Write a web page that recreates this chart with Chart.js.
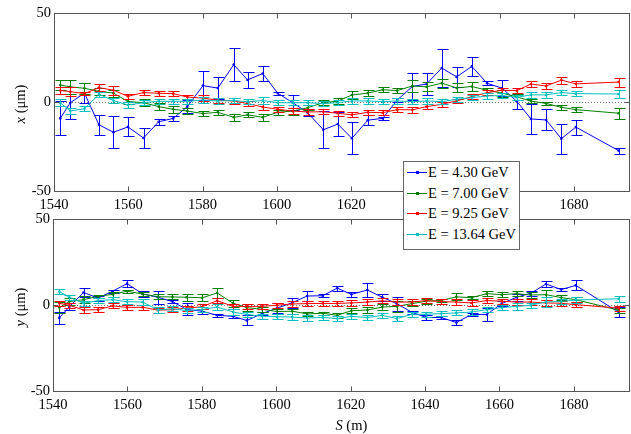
<!DOCTYPE html>
<html>
<head>
<meta charset="utf-8">
<script src="https://cdn.jsdelivr.net/npm/chart.js@4"></script>
<style>
body{margin:0;background:#fff;}
#wrap{position:relative;width:631px;height:434px;overflow:hidden;}
#topBox{position:absolute;left:0;top:0;width:631px;height:215px;}
#botBox{position:absolute;left:0;top:200px;width:631px;height:234px;}
#legend{position:absolute;left:403px;top:161px;width:115px;height:87px;border:1px solid #666;background:#fff;
  font-family:'Liberation Serif',serif;font-size:14.5px;color:#000;z-index:5;}
#legend .row{height:20.7px;display:flex;align-items:center;white-space:nowrap;}
#legend .mk{position:relative;width:20px;height:1px;margin:0 1px 0 3px;}
#legend .mk i{position:absolute;left:9px;top:-1px;width:3px;height:3px;}
</style>
</head>
<body>
<div id="wrap">
  <div id="topBox"><canvas id="chartX"></canvas></div>
  <div id="botBox"><canvas id="chartY"></canvas></div>
  <div id="legend"></div>
</div>
<script>
// BPM positions along the line (m)
const S = [1541.7, 1544.4, 1548.2, 1552.1, 1556, 1559.9, 1564.1, 1568.2, 1572.1, 1575.9,
           1580.1, 1584.1, 1588.4, 1592.1, 1596.2, 1600.2, 1604.3, 1608.3, 1612.5, 1616.4,
           1620.2, 1624.5, 1628.5, 1632.4, 1636.5, 1640.3, 1644.4, 1648.4, 1652.5, 1656.6,
           1660.6, 1664.6, 1668.4, 1672.5, 1676.6, 1680.5, 1692];

const energies = ["E = 4.30 GeV", "E = 7.00 GeV", "E = 9.25 GeV", "E = 13.64 GeV"];

// horizontal offsets x (um) and errors
const x430 = [-9.2, -0.4, 5.0, -12.8, -17.0, -14.0, -20.2, -11.1, -9.2, -2.6, 9.2, 7.8, 21.0, 12.4, 16.0, 5.0, -0.4, -6.0, -15.6, -12.4,
              -20.4, -10.2, -9.2, 1.1, 8.7, 10.1, 19.1, 14.1, 20.0, 10.5, 7.8, 0.4, -9.5, -10.1, -20.6, -14.1, -27.3];
const x430err = [9.5, 9.0, 5.4, 5.5, 8.9, 5.3, 5.6, 1.7, 1.2, 3.5, 8.0, 6.3, 9.3, 4.7, 4.3, 0.8, 4.3, 2.0, 10.5, 6.6,
                 8.9, 3.0, 1.0, 1.0, 7.5, 6.4, 10.6, 5.5, 5.2, 1.2, 4.3, 4.2, 8.5, 5.9, 8.5, 4.2, 1.7];
const x700 = [9.5, 8.5, 7.7, 6.0, 5.0, 0.3, -0.4, -2.6, -4.1, -5.1, -6.5, -5.8, -8.6, -7.2, -8.6, -5.8, -5.1, -3.2, -0.4, 0.5,
              3.9, 5.0, 6.9, 6.4, 9.0, 8.5, 10.6, 7.9, 8.7, 6.6, 5.0, 2.9, 0.5, -0.8, -3.0, -4.3, -6.3];
const x700err = [3, 4, 3, 2, 2, 1.5, 2, 2, 2, 1.5, 1.5, 1.5, 2, 1.5, 2, 1.5, 2, 1.5, 1.5, 1.5,
                 2, 1.5, 1.5, 1.5, 3.5, 2.5, 2.5, 2.5, 2.5, 1.5, 2, 1.5, 1, 1, 1.5, 1.5, 3];
const x925 = [6.5, 5.8, 4.7, 8.1, 6.6, 3.2, 5.3, 4.9, 4.7, 2.8, 2.2, 1.0, 0.6, -0.9, -2.8, -4.1, -5.1, -5.6, -5.5, -6.3,
              -7.2, -5.8, -6.0, -4.3, -4.4, -2.6, -1.3, 0.6, 3.0, 5.2, 6.6, 6.4, 10.1, 9.0, 12.3, 10.2, 11.2];
const x925err = [2, 2.5, 1, 2, 2.5, 1.5, 1.5, 1.5, 1.5, 1, 1.5, 1.5, 1.5, 1.5, 1.5, 1.5, 1.5, 1.5, 1.5, 1.5,
                 1.5, 1.5, 1.5, 1.5, 1.5, 1.5, 1.5, 1, 1.5, 1.5, 1.5, 1.5, 1.5, 1.5, 2, 1.5, 2.5];
const x1364 = [-0.5, -5.0, -3.8, 4.3, 0.8, -1.7, -0.4, 0.4, 0.4, 0.4, 1.1, 0.6, 0.8, 0.2, 0.8, -0.4, -0.4, -0.4, -0.9, -0.4,
               0.6, 0.6, 0.2, 0.6, 0.2, 0.6, 0.2, 1.5, 2.4, 3.4, 3.6, 2.6, 4.0, 4.0, 5.3, 4.7, 4.5];
const x1364err = [2, 1.5, 1.5, 1.5, 1.5, 1.5, 1.5, 1.5, 1.5, 1.5, 1.5, 1.5, 1.5, 1.5, 2, 1.5, 1.5, 1.5, 1.5, 1.5,
                  1.5, 1.5, 1.5, 1.5, 1.5, 1.5, 1.5, 1.5, 1.5, 1.5, 1.5, 1.5, 1.5, 1.5, 1.5, 1.5, 2.5];

// vertical offsets y (um) and errors
const y430 = [-7.5, -1.0, 7.3, 4.0, 8.0, 12.4, 6.4, 4.5, 2.0, -2.6, -3.6, -6.0, -6.6, -9.0, -5.0, -1.8, 1.3, 5.2, 5.4, 9.8,
              6.2, 8.7, 4.5, 0.8, -4.3, -7.2, -7.3, -10.2, -5.5, -5.5, 0.8, 4.5, 6.8, 12.2, 9.0, 11.4, -4.1];
const y430err = [3.5, 2, 2.6, 1.5, 1, 2, 2, 3.8, 1, 3.5, 1.5, 1, 1, 2.9, 1, 3, 3, 3, 1, 1.5,
                 1.5, 4, 2, 4, 1, 1.5, 1, 1.5, 1, 4, 1.5, 2, 1.5, 1.5, 1, 2.9, 2.7];
const y700 = [-1.5, 2.0, 3.1, 5.0, 6.2, 8.0, 6.4, 4.8, 4.7, 4.5, 4.2, 7.0, 1.0, -1.5, -2.5, -3.8, -3.6, -5.2, -4.8, -6.0,
              -3.3, -2.9, -1.2, -0.8, 0.8, 2.2, 2.7, 4.7, 4.3, 6.6, 6.0, 6.6, 5.8, 6.0, 4.3, 3.1, -3.0];
const y700err = [3, 2, 2, 1, 1.5, 1, 1, 1.5, 1.5, 2, 2, 3, 2, 2, 1.5, 1.5, 1.5, 1, 1, 1.5,
                 1.5, 2, 1.5, 3, 1.5, 1.5, 1, 2, 1, 1.5, 1.5, 1.5, 1.5, 3, 1.5, 1.5, 1.5];
const y925 = [1.0, -0.2, -2.9, -2.7, -0.5, -1.4, -1.3, -3.0, -2.7, -1.8, -1.0, 2.5, -0.8, -0.8, -0.8, -0.1, 0.6, 0.8, 0.9, 0.9,
              1.2, 1.7, 2.4, 1.7, 1.7, 2.6, 2.0, 1.7, 1.2, 2.6, 2.2, 1.7, 1.7, 1.2, 1.0, 0.2, -1.8];
const y925err = [1.5, 1.5, 1.5, 1.5, 1.5, 1.5, 1.5, 1.5, 1.5, 1.5, 1.5, 1.5, 1.5, 1.5, 1.5, 1.5, 1.5, 1.5, 1.5, 1.5,
                 1.5, 1.5, 1.5, 1.5, 1.5, 1.5, 1.5, 1.5, 1.5, 1.5, 1.5, 1.5, 1.5, 1.5, 1.5, 1.5, 1.5];
const y1364 = [7.8, 4.5, 1.0, 2.5, 3.1, 1.9, 1.7, -2.9, -2.1, -3.3, -2.6, -1.2, -4.1, -5.5, -6.5, -6.8, -7.0, -7.6, -7.2, -7.9,
               -6.6, -7.3, -6.0, -7.9, -5.4, -5.4, -5.0, -4.6, -4.1, -2.7, -1.5, -0.8, -0.2, 1.8, 2.0, 2.9, 3.6];
const y1364err = [1.5, 1.5, 1.5, 1.5, 1.5, 1.5, 1.5, 1.5, 1.5, 1.5, 1.5, 1.5, 1.5, 1.5, 1.5, 1.5, 1.5, 1.5, 1.5, 1.5,
                  1.5, 1.5, 1.5, 1.5, 1.5, 1.5, 1.5, 1.5, 1.5, 1.5, 1.5, 2, 1.5, 3, 1.5, 2, 1.8];

const xTicks = [1540, 1560, 1580, 1600, 1620, 1640, 1660, 1680];

const colors = ["#0000ff", "#008000", "#ff0000", "#00bfbf"];
const FONT = "Liberation Serif";

Chart.defaults.font.family = FONT;
Chart.defaults.font.size = 14.5;
Chart.defaults.color = "#000";

// legend shared by both panels
const legend = document.getElementById("legend");
energies.forEach((name, k) => {
    const row = document.createElement("div");
    row.className = "row";
    row.innerHTML = `<span class="mk" style="background:${colors[k]}"><i style="background:${colors[k]}"></i></span>${name}`;
    legend.appendChild(row);
});

// error bars, box, inward ticks, zero line and axis titles
const decorations = {
    id: "decorations",
    beforeDatasetsDraw(chart){
        const {ctx, chartArea: a, scales: {y}} = chart;
        const y0 = Math.round(y.getPixelForValue(0)) + 0.5;
        ctx.save();
        ctx.strokeStyle = "#777";
        ctx.lineWidth = 1;
        ctx.setLineDash([1, 2]);
        ctx.beginPath();
        ctx.moveTo(a.left, y0);
        ctx.lineTo(a.right, y0);
        ctx.stroke();
        ctx.restore();
    },
    afterDatasetDraw(chart, args){
        const ds = chart.data.datasets[args.index];
        const y = chart.scales.y;
        const ctx = chart.ctx;
        ctx.save();
        ctx.strokeStyle = ds.borderColor;
        ctx.lineWidth = 1;
        args.meta.data.forEach((pt, i) => {
            const v = ds.data[i].y, e = ds.err[i];
            const px = Math.round(pt.x) + 0.5;
            const hi = Math.round(y.getPixelForValue(v + e)) + 0.5;
            const lo = Math.round(y.getPixelForValue(v - e)) + 0.5;
            ctx.beginPath();
            ctx.moveTo(px, hi); ctx.lineTo(px, lo);
            ctx.moveTo(px - 5, hi); ctx.lineTo(px + 6, hi);
            ctx.moveTo(px - 5, lo); ctx.lineTo(px + 6, lo);
            ctx.stroke();
        });
        ctx.restore();
    },
    afterDraw(chart, args, opts){
        const {ctx, chartArea: a, scales: {x, y}} = chart;
        const L = Math.round(a.left) + 0.5, R = Math.round(a.right) - 0.5;
        const T = Math.round(a.top) + 0.5, B = Math.round(a.bottom) + 0.5;
        ctx.save();
        ctx.strokeStyle = "#555";
        ctx.lineWidth = 1;
        ctx.strokeRect(L, T, R - L, B - T);
        ctx.beginPath();
        x.ticks.forEach(t => {
            const px = Math.round(x.getPixelForValue(t.value)) + 0.5;
            ctx.moveTo(px, B); ctx.lineTo(px, B - 5);
            ctx.moveTo(px, T); ctx.lineTo(px, T + 5);
        });
        y.ticks.forEach(t => {
            const py = Math.round(y.getPixelForValue(t.value)) + 0.5;
            ctx.moveTo(L, py); ctx.lineTo(L + 5, py);
            ctx.moveTo(R, py); ctx.lineTo(R - 5, py);
        });
        ctx.stroke();

        ctx.fillStyle = "#000";
        ctx.textBaseline = "middle";
        // y title, rotated: italic symbol + unit
        ctx.save();
        ctx.translate(21.5, (a.top + a.bottom) / 2 + 2);
        ctx.rotate(-Math.PI / 2);
        drawParts(ctx, [[opts.symbol, true], [" (\u03bcm)", false]], 0, 0);
        ctx.restore();
        if (opts.xTitle){
            drawParts(ctx, [["S", true], [" (m)", false]], (a.left + a.right) / 2 + 10, a.bottom + 35);
        }
        ctx.restore();
    }
};

function drawParts(ctx, parts, cx, cy){
    const fonts = parts.map(p => (p[1] ? "italic " : "") + "14.5px '" + FONT + "'");
    let total = 0;
    const w = parts.map((p, i) => { ctx.font = fonts[i]; const m = ctx.measureText(p[0]).width; total += m; return m; });
    let xx = cx - total / 2;
    ctx.textAlign = "left";
    parts.forEach((p, i) => {
        ctx.font = fonts[i];
        ctx.fillText(p[0], xx, cy);
        xx += w[i];
    });
}

function makeChart(id, series, errs, symbol, padTop, leftWidth, bottomHeight, xTitle){
    const datasets = series.map((vals, k) => ({
        label: energies[k],
        data: S.map((s, i) => ({x: s, y: vals[i]})),
        err: errs[k],
        borderColor: colors[k],
        backgroundColor: colors[k],
        borderWidth: 1,
        pointRadius: 1.3,
        pointBorderWidth: 0,
        pointHoverRadius: 0,
        tension: 0,
        fill: false,
        order: 4 - k
    }));
    return new Chart(document.getElementById(id), {
        type: "line",
        data: {datasets},
        options: {
            responsive: true,
            maintainAspectRatio: false,
            animation: false,
            events: [],
            layout: {padding: {top: padTop, right: 0, left: 0, bottom: 0}},
            plugins: {
                legend: {display: false},
                tooltip: {enabled: false},
                decorations: {symbol, xTitle}
            },
            scales: {
                x: {
                    type: "linear",
                    min: 1540,
                    max: 1695,
                    afterBuildTicks: s => { s.ticks = xTicks.map(v => ({value: v})); },
                    afterFit: s => { s.height = bottomHeight; },
                    grid: {display: false, drawTicks: false},
                    border: {display: false},
                    ticks: {padding: 5, maxRotation: 0, callback: v => String(v)}
                },
                y: {
                    min: -50,
                    max: 50,
                    afterFit: s => { s.width = leftWidth; },
                    grid: {display: false, drawTicks: false},
                    border: {display: false},
                    ticks: {stepSize: 50, padding: 3}
                }
            }
        },
        plugins: [decorations]
    });
}

makeChart("chartX", [x430, x700, x925, x1364], [x430err, x700err, x925err, x1364err], "x", 13, 54, 24, false);
makeChart("chartY", [y430, y700, y925, y1364], [y430err, y700err, y925err, y1364err], "y", 19, 53, 43, true);
</script>
</body>
</html>
